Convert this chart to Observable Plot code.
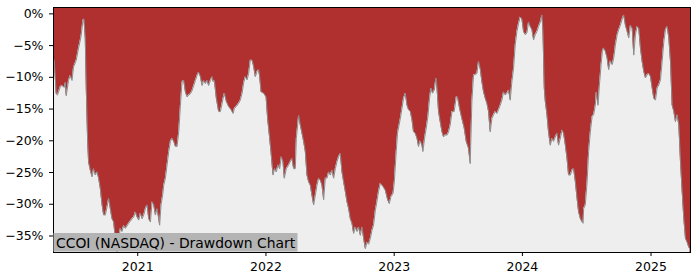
<!DOCTYPE html>
<html><head><meta charset="utf-8">
<script src="https://cdn.jsdelivr.net/npm/d3@7"></script>
<script src="https://cdn.jsdelivr.net/npm/@observablehq/plot@0.6"></script>
<style>body{margin:0;background:#fff}</style>
</head><body><div id="chart"></div>
<script>
// Decimal-year dates of each weekly observation
const years = [
2020.351,2020.366,2020.376,2020.398,2020.411,2020.429,2020.436,2020.444,2020.462,2020.475,
2020.489,2020.501,2020.522,2020.540,2020.559,2020.574,2020.582,2020.592,2020.600,2020.610,
2020.618,2020.631,2020.645,2020.657,2020.670,2020.684,2020.696,2020.709,2020.723,2020.735,
2020.748,2020.762,2020.774,2020.787,2020.800,2020.813,2020.826,2020.839,2020.852,2020.865,
2020.878,2020.891,2020.904,2020.930,2020.956,2020.969,2020.982,2020.995,2021.008,2021.021,
2021.034,2021.047,2021.060,2021.073,2021.086,2021.099,2021.112,2021.125,2021.138,2021.151,
2021.164,2021.171,2021.182,2021.195,2021.203,2021.216,2021.229,2021.242,2021.255,2021.268,
2021.281,2021.294,2021.307,2021.320,2021.333,2021.346,2021.359,2021.372,2021.385,2021.398,
2021.411,2021.424,2021.437,2021.450,2021.463,2021.475,2021.489,2021.502,2021.514,2021.528,
2021.541,2021.553,2021.567,2021.580,2021.588,2021.598,2021.613,2021.631,2021.645,2021.666,
2021.676,2021.691,2021.709,2021.728,2021.744,2021.754,2021.769,2021.787,2021.800,2021.814,
2021.826,2021.839,2021.853,2021.865,2021.878,2021.892,2021.904,2021.917,2021.931,2021.943,
2021.951,2021.962,2021.982,2022.001,2022.013,2022.029,2022.042,2022.055,2022.068,2022.081,
2022.094,2022.107,2022.120,2022.133,2022.143,2022.159,2022.177,2022.190,2022.203,2022.216,
2022.229,2022.237,2022.255,2022.268,2022.281,2022.294,2022.307,2022.320,2022.333,2022.346,
2022.359,2022.372,2022.385,2022.398,2022.411,2022.424,2022.437,2022.450,2022.463,2022.476,
2022.489,2022.502,2022.515,2022.528,2022.541,2022.554,2022.567,2022.580,2022.593,2022.606,
2022.619,2022.632,2022.645,2022.658,2022.671,2022.684,2022.697,2022.710,2022.723,2022.736,
2022.749,2022.762,2022.775,2022.788,2022.801,2022.814,2022.827,2022.839,2022.853,2022.861,
2022.878,2022.892,2022.913,2022.931,2022.949,2022.962,2022.975,2022.991,2023.001,2023.016,
2023.026,2023.048,2023.061,2023.073,2023.087,2023.100,2023.112,2023.126,2023.139,2023.151,
2023.164,2023.178,2023.190,2023.203,2023.217,2023.224,2023.237,2023.250,2023.263,2023.276,
2023.287,2023.299,2023.313,2023.326,2023.334,2023.346,2023.359,2023.373,2023.385,2023.398,
2023.412,2023.424,2023.437,2023.451,2023.468,2023.484,2023.494,2023.510,2023.528,2023.546,
2023.562,2023.580,2023.593,2023.606,2023.619,2023.632,2023.645,2023.658,2023.671,2023.684,
2023.697,2023.710,2023.723,2023.736,2023.749,2023.762,2023.775,2023.788,2023.801,2023.814,
2023.827,2023.840,2023.853,2023.866,2023.879,2023.892,2023.905,2023.918,2023.931,2023.944,
2023.957,2023.970,2023.983,2023.996,2024.009,2024.022,2024.035,2024.048,2024.061,2024.074,
2024.087,2024.100,2024.113,2024.126,2024.139,2024.152,2024.160,2024.170,2024.178,2024.191,
2024.203,2024.217,2024.230,2024.242,2024.256,2024.269,2024.281,2024.295,2024.308,2024.320,
2024.334,2024.347,2024.359,2024.373,2024.386,2024.398,2024.412,2024.425,2024.437,2024.451,
2024.464,2024.472,2024.476,2024.489,2024.503,2024.515,2024.528,2024.542,2024.554,2024.567,
2024.575,2024.588,2024.599,2024.612,2024.622,2024.632,2024.645,2024.659,2024.671,2024.684,
2024.698,2024.710,2024.723,2024.737,2024.749,2024.762,2024.776,2024.788,2024.801,2024.815,
2024.827,2024.840,2024.854,2024.866,2024.879,2024.892,2024.905,2024.918,2024.931,2024.944,
2024.957,2024.970,2024.983,2024.996,2025.009,2025.022,2025.035,2025.048,2025.061,2025.074,
2025.087,2025.100,2025.113,2025.126,2025.139,2025.152,2025.165,2025.178,2025.191,2025.204,
2025.217,2025.230,2025.243,2025.256,2025.269,2025.282,2025.295,2025.304
];
// Drawdown from running peak, percent
const drawdown = [
-7.3,-12.6,-12.8,-11.5,-11.3,-11.6,-10.8,-12.9,-10.5,-9.7,
-10.5,-8.4,-7.3,-5.4,-3.6,-1.0,-0.8,-3.8,-11.8,-19.7,
-23.4,-24.6,-25.7,-24.4,-25.4,-24.9,-25.9,-27.5,-30.1,-31.7,
-31.7,-30.4,-29.1,-30.7,-32.3,-32.8,-35.4,-37.5,-35.4,-33.8,
-34.3,-33.3,-33.8,-33.0,-32.3,-32.0,-31.2,-32.0,-32.5,-31.4,
-32.3,-31.7,-30.7,-30.1,-32.3,-32.8,-29.6,-30.1,-31.7,-30.7,
-32.3,-33.3,-30.1,-28.5,-27.0,-25.9,-23.8,-21.7,-20.1,-19.6,
-20.1,-20.9,-20.9,-18.6,-14.4,-10.7,-10.5,-12.3,-13.1,-12.8,
-12.6,-12.1,-11.3,-10.5,-9.7,-9.2,-9.9,-11.3,-10.5,-11.0,
-10.5,-11.3,-10.5,-9.9,-10.7,-10.5,-13.3,-15.4,-15.4,-13.3,
-12.5,-13.8,-14.6,-15.1,-15.7,-14.9,-14.6,-14.1,-13.6,-12.5,
-10.9,-9.9,-10.4,-9.4,-7.3,-7.3,-8.3,-9.9,-9.1,-8.8,
-9.9,-12.3,-12.5,-13.1,-16.5,-19.6,-22.3,-25.4,-24.4,-24.9,
-23.8,-24.4,-22.5,-23.3,-25.9,-24.4,-23.8,-23.3,-22.8,-24.4,
-24.4,-19.6,-16.0,-17.5,-18.8,-20.1,-21.7,-25.4,-26.5,-27.0,
-28.6,-30.1,-28.6,-27.0,-25.9,-26.2,-27.0,-29.3,-25.9,-25.9,
-24.9,-25.4,-24.6,-25.9,-24.4,-23.3,-22.5,-22.0,-24.9,-26.5,
-28.0,-29.6,-30.7,-32.3,-33.0,-34.6,-33.6,-34.3,-33.6,-34.9,
-33.6,-35.4,-37.0,-36.0,-36.3,-35.4,-34.1,-33.3,-31.0,-30.1,
-28.0,-26.7,-27.2,-27.8,-29.3,-29.9,-28.8,-28.3,-26.5,-21.7,
-18.8,-16.5,-14.9,-13.3,-12.5,-14.4,-15.1,-15.4,-16.7,-18.6,
-18.8,-19.6,-20.9,-20.0,-20.7,-21.7,-19.6,-18.0,-16.2,-13.3,
-11.7,-12.5,-12.0,-10.1,-11.7,-15.4,-17.0,-18.6,-19.4,-19.1,
-19.1,-18.6,-17.5,-15.4,-15.4,-13.1,-13.1,-14.9,-16.5,-18.0,
-20.1,-21.2,-23.6,-13.8,-9.6,-9.6,-9.4,-7.5,-8.6,-10.7,
-12.3,-13.3,-14.1,-15.4,-18.6,-16.5,-15.9,-15.4,-15.7,-15.1,
-14.4,-13.6,-12.3,-12.8,-12.5,-12.0,-13.6,-10.7,-8.6,-4.9,
-2.8,-1.5,-0.5,-0.8,-2.8,-3.3,-3.0,-1.3,-2.0,-2.5,
-4.1,-3.3,-2.8,-2.0,-1.3,-0.2,-2.8,-11.7,-13.8,-15.9,
-18.6,-20.7,-19.6,-20.1,-19.4,-18.8,-20.7,-19.6,-18.3,-18.8,
-20.7,-22.8,-25.4,-25.4,-24.6,-24.4,-26.5,-29.1,-31.2,-32.3,
-32.8,-33.0,-30.7,-30.1,-26.5,-21.7,-18.6,-16.2,-15.9,-14.4,
-12.3,-14.4,-11.2,-8.0,-5.9,-5.4,-5.9,-7.0,-8.8,-7.4,
-8.0,-7.0,-4.9,-3.3,-2.5,-1.8,-0.8,-0.2,-1.8,-2.8,
-3.8,-1.8,-2.3,-6.5,-3.3,-2.0,-2.3,-5.4,-7.5,-9.1,
-10.1,-9.6,-9.4,-9.9,-11.7,-13.3,-13.6,-11.7,-11.2,-10.4,
-7.5,-4.4,-2.5,-2.0,-3.8,-7.5,-14.4,-15.4,-17.0,-15.9,
-17.5,-23.3,-28.0,-32.3,-35.4,-36.0,-36.8,-37.0
];
const yTicks = [0, -5, -10, -15, -20, -25, -30, -35];
const xTickYears = [2021, 2022, 2023, 2024, 2025];
const caption = "CCOI (NASDAQ) - Drawdown Chart";

function toDate(y) {
  const yr = Math.floor(y);
  const s = Date.UTC(yr, 0, 1), e = Date.UTC(yr + 1, 0, 1);
  return new Date(s + (y - yr) * (e - s));
}
const data = years.map((y, i) => ({date: toDate(y), dd: drawdown[i]}));
const yMin = -37.6, yMax = 1.0;

const chart = Plot.plot({
  width: 700, height: 280,
  marginLeft: 53, marginRight: 10, marginTop: 7, marginBottom: 28,
  style: {fontFamily: "DejaVu Sans", fontSize: "12.5px", background: "#fff", color: "#000"},
  x: {type: "utc", domain: [toDate(2020.345), toDate(2025.308)], ticks: xTickYears.map(toDate),
      tickFormat: "%Y", tickSize: 4, tickPadding: 6, label: null},
  y: {domain: [yMin, yMax], ticks: yTicks, tickSize: 4, tickPadding: 6, label: null,
      tickFormat: d => d === 0 ? "0%" : "\u2212" + Math.abs(d) + "%"},
  marks: [
    Plot.frame({fill: "#b03030", stroke: null}),
    Plot.areaY(data, {x: "date", y1: "dd", y2: yMin, fill: "#eeeeee"}),
    Plot.lineY(data, {x: "date", y: "dd", stroke: "#8c8c8c", strokeWidth: 1}),
    Plot.frame({stroke: "#000", strokeWidth: 1})
  ]
});
document.getElementById("chart").append(chart);

const svg = d3.select(chart);
const g = svg.append("g").attr("text-anchor", "start");
g.append("rect").attr("x", 53.5).attr("y", 233).attr("width", 244).attr("height", 18.5).attr("fill", "#b4b4b4");
g.append("text").attr("x", 56).attr("y", 247.5).attr("text-anchor", "start")
  .attr("font-family", "DejaVu Sans").attr("font-size", "13.9px").attr("fill", "#000")
  .text(caption);
</script>
</body></html>
